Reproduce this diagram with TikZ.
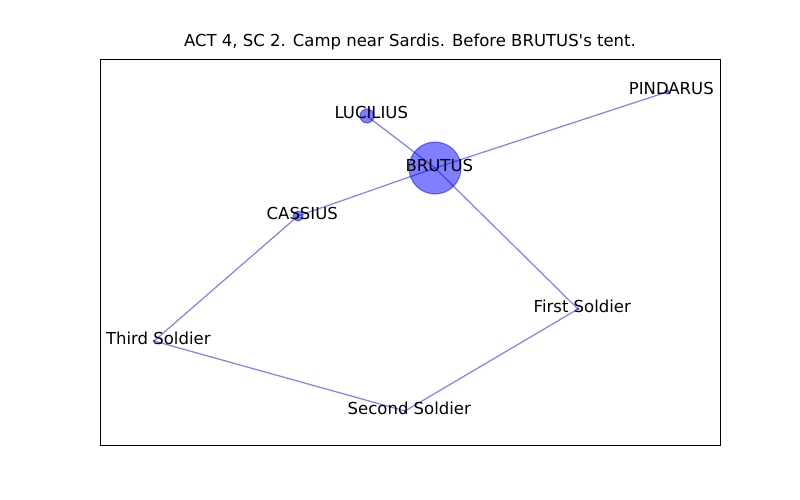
\documentclass[tikz,border=0pt]{standalone}
\usepackage{fontspec}
\setmainfont{DejaVu Sans}
\usetikzlibrary{backgrounds}
\tikzset{
  person/.style={circle, draw=blue, fill=blue, fill opacity=0.5, draw opacity=0.5, inner sep=0pt, line width=1pt},
  link/.style={draw=blue, draw opacity=0.5, line width=1.2pt},
  tag/.style={font=\fontsize{16.5}{20}\selectfont, inner sep=0pt, anchor=base},
  persontag/.style={tag, xshift=4.3pt, yshift=-3pt},
}
\begin{document}
\begin{tikzpicture}[x=1pt,y=-1pt]
    \useasboundingbox (0,0) rectangle (800,500);
    \draw[line width=1pt] (100,60) rectangle (720,445);
    \node[tag] (title) at (410,47) {ACT 4, SC 2. Camp near Sardis. Before BRUTUS\textquotesingle s tent.};

    % Personajes
    \foreach \id/\x/\y/\d/\txt in {
        brutus/435/168/52/BRUTUS,
        lucilius/367/116/14/LUCILIUS,
        pindarus/667/92/4/PINDARUS,
        cassius/298/216/10/CASSIUS,
        first/578/309/2/First Soldier,
        third/154/341/2/Third Soldier,
        second/405/411/2/Second Soldier
        } {
        \node[person, minimum size=\d] (\id) at (\x,\y) {};
        \node[persontag] (lbl-\id) at (\x,\y) {\txt};
    }

    % Relaciones
    \begin{scope}[on background layer]
        \foreach \a/\b in {lucilius/brutus, brutus/pindarus, brutus/cassius, brutus/first,
                           cassius/third, third/second, second/first} {
            \draw[link] (\a.center) -- (\b.center);
        }
    \end{scope}
\end{tikzpicture}
\end{document}
